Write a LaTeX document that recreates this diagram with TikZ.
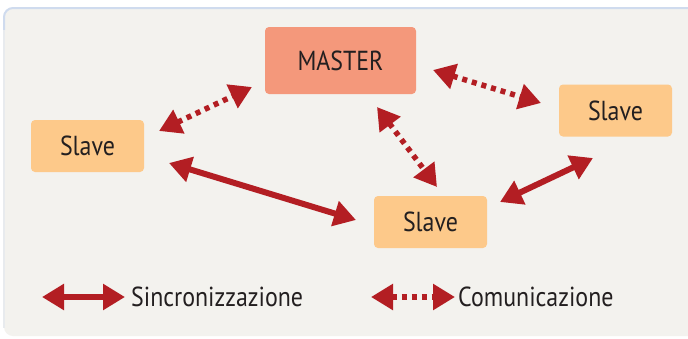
\documentclass[tikz,border=0pt]{standalone}
\usepackage{fontspec}
\setmainfont[FakeStretch=0.87]{PT Sans}
\usetikzlibrary{arrows.meta}
\definecolor{panelbg}{HTML}{F3F2EE}
\definecolor{panelrim}{HTML}{CFDBEE}
\definecolor{masterfill}{HTML}{F4987B}
\definecolor{slavefill}{HTML}{FDC98A}
\definecolor{arrowred}{HTML}{B31E23}
\definecolor{ink}{HTML}{231F20}
\tikzset{
  unitbox/.style={rounded corners=4pt, inner sep=0pt, text=ink,
    font=\fontsize{27.5}{31}\selectfont},
  masterbox/.style={unitbox, fill=masterfill, minimum width=151pt, minimum height=67pt},
  slavebox/.style={unitbox, fill=slavefill, minimum width=113pt, minimum height=52pt},
  synclink/.style={arrowred, line width=6pt,
    {Triangle[length=22pt,width=25pt]}-{Triangle[length=22pt,width=25pt]}},
  commlink/.style={arrowred, line width=5.5pt, dash pattern=on 5pt off 5pt,
    {Triangle[length=22pt,width=25pt]}-{Triangle[length=22pt,width=25pt]}},
  legendtext/.style={text=ink, inner sep=0pt, anchor=base west,
    font=\fontsize{27.5}{31}\selectfont},
}
\begin{document}
\begin{tikzpicture}[x=1pt, y=-1pt]
  \useasboundingbox (0,0) rectangle (688,338);
  % background panel
  \fill[white] (0,0) rectangle (688,338);
  \fill[panelbg, rounded corners=9pt] (4,8) rectangle (700,336);
  \draw[panelrim, line width=2pt, rounded corners=9pt] (4,30) -- (4,8) -- (700,8);
  \draw[panelbg!70!panelrim, line width=1.5pt] (4,30) -- (4,328);

  % units
  \node[masterbox] (master) at (340.5,60.5) {MASTER};
  \node[slavebox]  (sL) at (87.5,146) {Slave};
  \node[slavebox]  (sR) at (615.5,110.5) {Slave};
  \node[slavebox]  (sC) at (430.5,222) {Slave};

  % connector end points
  \coordinate (mL1) at (159,131);  \coordinate (mL2) at (252,87);
  \coordinate (mR1) at (433,70);   \coordinate (mR2) at (541,103);
  \coordinate (mC1) at (377,107);  \coordinate (mC2) at (437,187);
  \coordinate (lC1) at (169,163);  \coordinate (lC2) at (356,220);
  \coordinate (cR1) at (500,202);  \coordinate (cR2) at (593,158);

  % communication links
  \draw[commlink] (mL1) -- (mL2);
  \draw[commlink] (mR1) -- (mR2);
  \draw[commlink] (mC1) -- (mC2);
  % synchronisation links
  \draw[synclink] (lC1) -- (lC2);
  \draw[synclink] (cR1) -- (cR2);

  % legend
  \coordinate (k1a) at (42,297);  \coordinate (k1b) at (125,297);
  \coordinate (k2a) at (371,297); \coordinate (k2b) at (455,297);
  \draw[synclink] (k1a) -- (k1b);
  \draw[commlink] (k2a) -- (k2b);
  \node[legendtext] (lsync) at (131,306) {Sincronizzazione};
  \node[legendtext] (lcomm) at (458,306) {Comunicazione};
\end{tikzpicture}
\end{document}
